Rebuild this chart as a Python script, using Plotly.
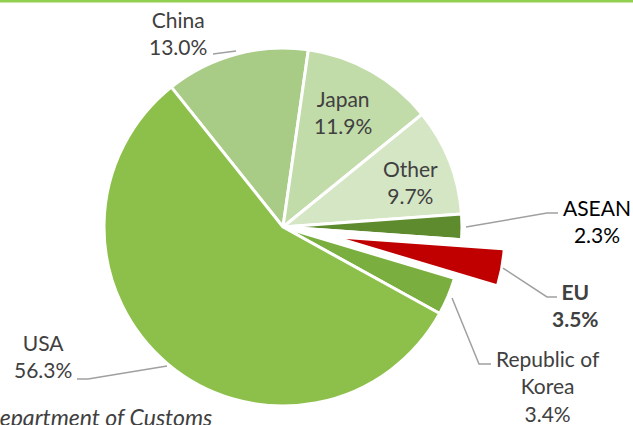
import plotly.graph_objects as go

W, H = 633, 425

# export shares by destination (%)
partners = ["China", "Japan", "Other", "ASEAN", "EU", "Republic of Korea", "USA"]
shares = [13.0, 11.9, 9.7, 2.3, 3.5, 3.4, 56.3]
slice_colors = ["#A8CC86", "#C1DBA9", "#D5E6C5", "#5F8B2F", "#C00000", "#7AAF3F", "#8CC04B"]
highlight = "EU"
source_note = "Source: Department of Customs"


def px(x, y):
    # pixel position -> paper coords
    return x / W, 1 - y / H


fig = go.Figure()

# main pie, EU slot left empty (EU is drawn "exploded" by a second trace)
main_colors = [c if p != highlight else "rgba(0,0,0,0)" for p, c in zip(partners, slice_colors)]
fig.add_trace(go.Pie(
    labels=partners, values=shares, sort=False, direction="clockwise",
    rotation=-38.6, textinfo="none", hoverinfo="label+percent",
    marker=dict(colors=main_colors, line=dict(color="white", width=3)),
    domain=dict(x=[104 / W, 462 / W], y=[0, 0.9318]),
    showlegend=False,
))

# the pulled-out EU wedge
eu_colors = [c if p == highlight else "rgba(0,0,0,0)" for p, c in zip(partners, slice_colors)]
fig.add_trace(go.Pie(
    labels=partners, values=shares, sort=False, direction="clockwise",
    rotation=-38.6, textinfo="none", hoverinfo="skip",
    marker=dict(colors=eu_colors, line=dict(color="white", width=0)),
    domain=dict(x=[189 / W, 503 / W], y=[0, 0.8753]),
    showlegend=False,
))

# label positions (pixel centres) and leader lines
label_pos = {
    "China": (178, 33),
    "Japan": (343, 112),
    "Other": (410, 182),
    "ASEAN": (597, 221),
    "EU": (575, 305),
    "Republic of Korea": (548, 386),
    "USA": (43, 356),
}
leaders = {
    "China": [(213, 54), (236, 51)],
    "ASEAN": [(466, 227), (547, 213), (558, 213)],
    "EU": [(503, 268), (547, 297), (557, 297)],
    "Republic of Korea": [(452, 298), (479, 364), (491, 364)],
    "USA": [(167, 366), (88, 379), (77, 379)],
}

for p, v in zip(partners, shares):
    name = p.replace("Republic of ", "Republic of<br>")
    txt = f"{name}<br>{v:.1f}%"
    color = "#404040"
    if p == highlight:
        txt = f"<b>{txt}</b>"
    if p == "ASEAN":
        color = "#000000"
    x, y = px(*label_pos[p])
    fig.add_annotation(
        x=x, y=y, xref="paper", yref="paper", text=txt, showarrow=False,
        xanchor="center", yanchor="middle", align="center",
        font=dict(family="Lato", size=21, color=color),
    )

for p, pts in leaders.items():
    path = ""
    for i, (x, y) in enumerate(pts):
        xx, yy = px(x, y)
        path += ("M" if i == 0 else " L") + f"{xx:.4f},{yy:.4f}"
    fig.add_shape(type="path", path=path, xref="paper", yref="paper",
                  line=dict(color="#A0A0A0", width=1.5))

# source note, cut off by the left edge as in the original
sx, sy = px(214, 417)
fig.add_annotation(
    x=sx, y=sy, xref="paper", yref="paper", text=f"<i>{source_note}</i>",
    showarrow=False, xanchor="right", yanchor="middle",
    font=dict(family="Lato", size=23, color="#404040"),
)

# green rule along the top
fig.add_shape(type="line", xref="paper", yref="paper", x0=0, x1=1, y0=1 - 1 / H, y1=1 - 1 / H,
              line=dict(color="#92D050", width=3))

fig.update_layout(
    width=W, height=H,
    margin=dict(l=0, r=0, t=0, b=0),
    paper_bgcolor="white",
    plot_bgcolor="white",
    showlegend=False,
)

fig.write_html("out.html", config={"displayModeBar": False},
               post_script="document.body.style.margin='0';document.body.style.overflow='hidden';")
